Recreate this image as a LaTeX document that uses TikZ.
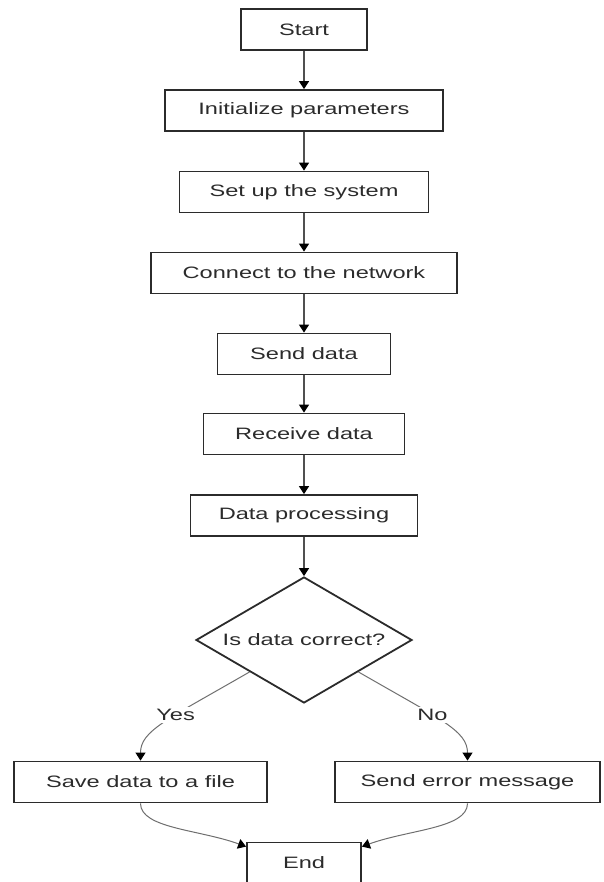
\documentclass[tikz,border=0pt]{standalone}
\usepackage{fontspec}
\setmainfont{Liberation Sans}[FakeStretch=1.43]
\usetikzlibrary{shapes.geometric,arrows.meta,calc}
\definecolor{ink}{HTML}{2B2B2B}
\definecolor{wire}{HTML}{505050}
\definecolor{softwire}{HTML}{6E6E6E}
\tikzset{
  box/.style={draw=ink, line width=1.8pt, text=ink, minimum height=41pt, inner sep=0pt},
  decision/.style={diamond, draw=ink, line width=1.8pt, text=ink, aspect=1.7,
    minimum width=216pt, minimum height=126pt, inner sep=0pt},
  tip/.style={-{Triangle[width=10pt,length=8pt,color=black]}},
  flow/.style={draw=wire, line width=1.3pt, tip},
  branch/.style={draw=softwire, line width=1pt, tip},
  lbl/.style={fill=white, text=ink, inner sep=2pt}
}
\begin{document}
\begin{tikzpicture}[font=\fontsize{16.5}{20}\selectfont]
\useasboundingbox (0,0) rectangle (603pt,-882pt);
\begin{scope}[x=1pt,y=1pt]
  % main column
  \node[box, minimum width=126pt] (start) at (304,-29.5)  {Start};
  \node[box, minimum width=278pt] (init)  at (304,-110.5) {Initialize parameters};
  \node[box, minimum width=249pt] (setup) at (304,-192)   {Set up the system};
  \node[box, minimum width=306pt] (net)   at (304,-273)   {Connect to the network};
  \node[box, minimum width=173pt] (send)  at (304,-354)   {Send data};
  \node[box, minimum width=201pt] (recv)  at (304,-434)   {Receive data};
  \node[box, minimum width=227pt] (proc)  at (304,-515.5) {Data processing};
  \node[decision] (check) at (304,-640) {Is data correct?};
  % outcomes
  \node[box, minimum width=253pt] (save) at (140.5,-782) {Save data to a file};
  \node[box, minimum width=265pt] (err)  at (467.5,-782) {Send error message};
  \node[box, minimum width=114pt] (end)  at (304,-863)   {End};

  \draw[flow] (start) -- (init);
  \draw[flow] (init)  -- (setup);
  \draw[flow] (setup) -- (net);
  \draw[flow] (net)   -- (send);
  \draw[flow] (send)  -- (recv);
  \draw[flow] (recv)  -- (proc);
  \draw[flow] (proc)  -- (check);

  % branches leave from the middle of the lower edges
  \coordinate (yesfoot) at ($(check.west)!0.5!(check.south)$);
  \coordinate (nofoot)  at ($(check.east)!0.5!(check.south)$);
  \draw[branch] (yesfoot) .. controls +(-150:95) and +(90:30) .. node[lbl, pos=0.4] {Yes} (save.north);
  \draw[branch] (nofoot)  .. controls +(-30:95)  and +(90:30) .. node[lbl, pos=0.4] {No}  (err.north);

  % both outcomes meet at the end box
  \coordinate (endL) at ($(end.north west)+(0,-5)$);
  \coordinate (endR) at ($(end.north east)+(0,-5)$);
  \draw[branch] (save.south) .. controls +(0,-25) and +(160:50) .. (endL);
  \draw[branch] (err.south)  .. controls +(0,-25) and +(20:50)  .. (endR);
\end{scope}
\end{tikzpicture}
\end{document}
